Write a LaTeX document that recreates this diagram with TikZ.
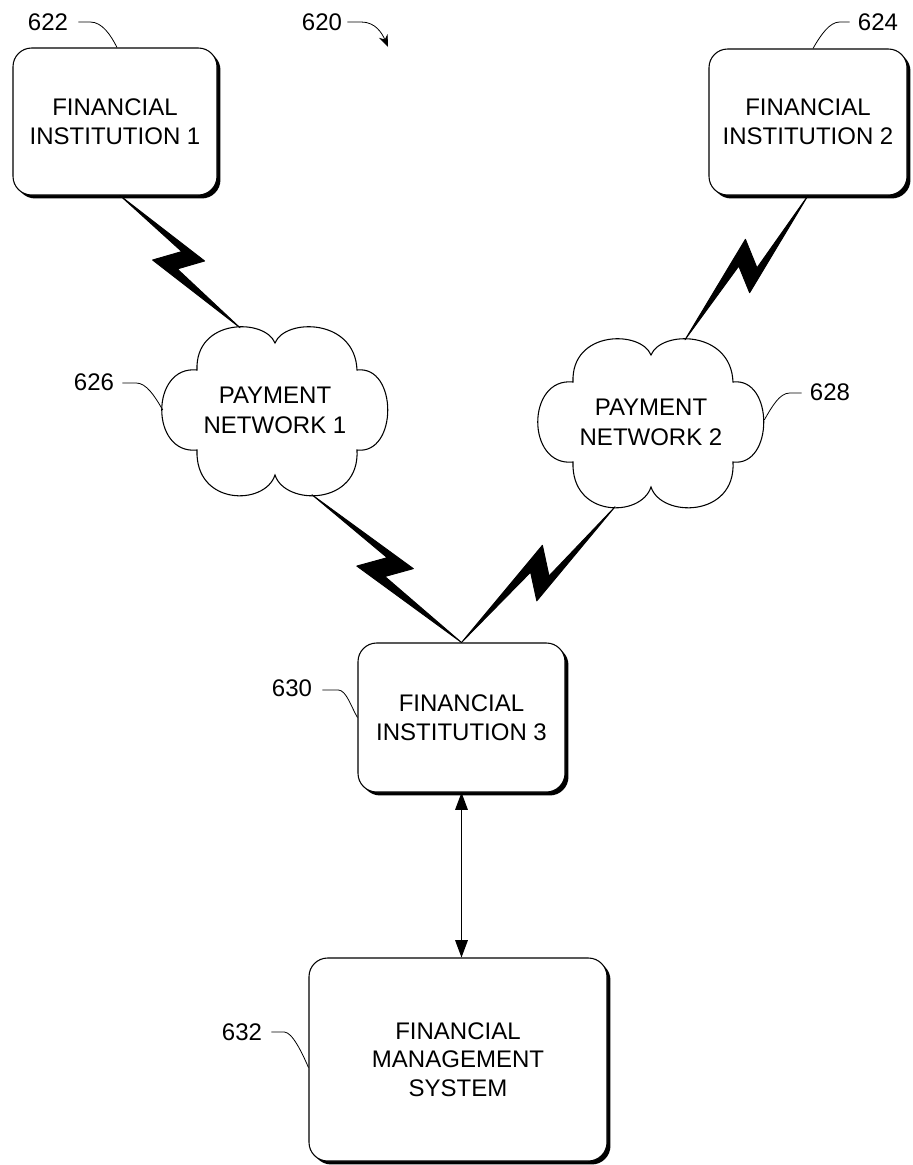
\documentclass[tikz,border=0pt]{standalone}
\usepackage{fontspec}
\setmainfont{Liberation Sans}
\usetikzlibrary{calc,arrows.meta,shadows}
\begin{document}
\begin{tikzpicture}[x=0.75pt,y=-0.75pt,
  box/.style={draw, line width=0.8pt, rounded corners=14pt, fill=white, align=center,
    font=\fontsize{18}{21.5}\selectfont, inner sep=0pt,
    drop shadow={shadow xshift=2.6pt, shadow yshift=-2.6pt, fill=black, opacity=1}},
  cloudtext/.style={align=center, font=\fontsize{18}{22.5}\selectfont, inner sep=0pt},
  lbl/.style={font=\fontsize{18}{21.5}\selectfont, inner sep=0pt},
  lead/.style={line width=0.6pt},
  cloudline/.style={line width=0.8pt},
  boltfill/.style={fill=black, draw=black, line width=0.7pt, line join=round},
  bolt/.style={to path={
    -- ($(\tikztostart)!0.59!(\tikztotarget)!14pt!90:(\tikztotarget)$)
    -- ($(\tikztostart)!0.52!(\tikztotarget)!5.2pt!-90:(\tikztotarget)$)
    -- (\tikztotarget)
    -- ($(\tikztostart)!0.39!(\tikztotarget)!14.4pt!-90:(\tikztotarget)$)
    -- ($(\tikztostart)!0.465!(\tikztotarget)!6.1pt!90:(\tikztotarget)$)
    -- cycle}},
  cloudshape/.pic={
    \draw[cloudline] (-78,-40) .. controls (-80,-92) and (-10,-92) .. (0,-67)
      .. controls (10,-92) and (80,-92) .. (82,-40)
      .. controls (123,-45) and (123,45) .. (82,40)
      .. controls (85,96) and (10,96) .. (0,65)
      .. controls (-10,96) and (-80,96) .. (-78,40)
      .. controls (-125,45) and (-125,-45) .. cycle;
  },
  dblarrow/.style={line width=0.8pt, {Triangle[length=13pt,width=9.5pt]}-{Triangle[length=13pt,width=9.5pt]}}
]
\useasboundingbox (0,0) rectangle (913,1165);

% boxes
\node[box, minimum width=153pt, minimum height=110.25pt] (fi1) at (115,121.5) {FINANCIAL\\INSTITUTION 1};
\node[box, minimum width=148.5pt, minimum height=109.5pt] (fi2) at (808,122) {FINANCIAL\\INSTITUTION 2};
\node[box, minimum width=155.25pt, minimum height=111.75pt] (fi3) at (461.5,717.5) {FINANCIAL\\INSTITUTION 3};
\node[box, minimum width=223.5pt, minimum height=152.25pt] (fms) at (458,1059.5) {FINANCIAL\\MANAGEMENT\\SYSTEM};

% clouds
\node[cloudtext, minimum width=169.5pt, minimum height=127.5pt] (pn1) at (275,410) {PAYMENT\\NETWORK 1};
\node[cloudtext, minimum width=171pt, minimum height=127.5pt] (pn2) at (651,422) {PAYMENT\\NETWORK 2};
\pic at (pn1.center) {cloudshape};
\pic at (pn2.center) {cloudshape};

% bolt end points
\coordinate (b1s) at ($(fi1.south)+(5,0)$);
\coordinate (b1e) at ($(pn1.north)+(-35,3)$);
\coordinate (b2s) at ($(pn1.south)+(37,-0.5)$);
\coordinate (b3s) at ($(pn2.south)+(-36,-0.5)$);
\coordinate (b4s) at (fi2.south);
\coordinate (b4e) at ($(pn2.north)+(34,3)$);

\filldraw[boltfill] (b1s) to[bolt] (b1e);
\filldraw[boltfill] (b2s) to[bolt] (fi3.north);
\filldraw[boltfill] (b3s) to[bolt] (fi3.north);
\filldraw[boltfill] (b4s) to[bolt] (b4e);

% double arrow
\draw[dblarrow] (fi3.south) -- (fi3.south |- fms.north);

% labels
\node[lbl] (l622) at (48,22) {622};
\node[lbl] (l620) at (322,22) {620};
\node[lbl] (l624) at (878,22) {624};
\node[lbl] (l626) at (94,382) {626};
\node[lbl] (l628) at (830,392) {628};
\node[lbl] (l630) at (292,688) {630};
\node[lbl] (l632) at (242,1032) {632};

\coordinate (a620) at (388,47);

\draw[lead] ($(l622.east)+(10,0)$) -- ++(12,0) .. controls +(12,0) and +(-6,-12) .. ($(fi1.north)+(2,0)$);
\draw[lead, -{Stealth[length=9pt,width=7pt]}] ($(l620.east)+(5,0)$) -- ++(14,0) .. controls +(14,0) and +(-6,-14) .. (a620);
\draw[lead] ($(l624.west)+(-8,0)$) -- ++(-10,0) .. controls +(-10,0) and +(8,-14) .. ($(fi2.north)+(5,0)$);
\draw[lead] ($(l626.east)+(8,1)$) -- ++(14,0) .. controls +(10,0) and +(-8,-14) .. ($(pn1.west)+(1,0)$);
\draw[lead] ($(l628.west)+(-8,1)$) -- ++(-12,0) .. controls +(-10,0) and +(8,-14) .. ($(pn2.east)+(-1,-2)$);
\draw[lead] ($(l630.east)+(10,2)$) -- ++(16,0) .. controls +(8,0) and +(-6,-10) .. (fi3.west);
\draw[lead] ($(l632.east)+(9,0)$) -- ++(13,0) .. controls +(8,0) and +(-6,-14) .. ($(fms.west)+(0,8)$);
\end{tikzpicture}
\end{document}
